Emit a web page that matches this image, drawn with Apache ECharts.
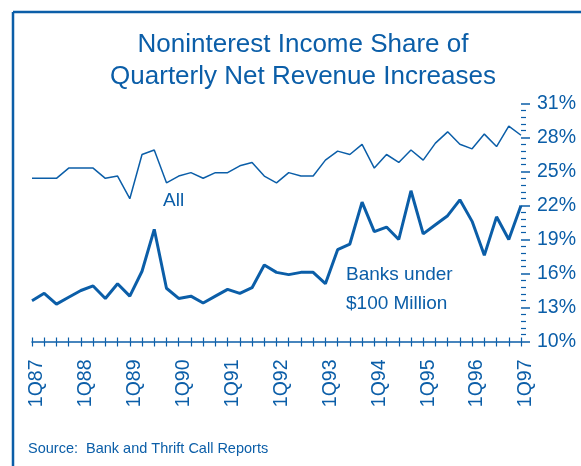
<!DOCTYPE html>
<html>
<head>
<meta charset="utf-8">
<script src="https://cdn.jsdelivr.net/npm/echarts@6/dist/echarts.min.js"></script>
<style>
  html, body { margin: 0; padding: 0; background: #fff; }
  #chart { width: 581px; height: 466px; }
</style>
</head>
<body>
<div id="chart"></div>
<script>
  // quarters 1Q87 .. 1Q97
  const quarters = []
  for (let y = 87; y <= 97; y++) {
    for (let q = 1; q <= 4; q++) {
      if (y === 97 && q > 1) break
      quarters.push(q + 'Q' + y)
    }
  }

  // noninterest income share, all banks (%)
  const allBanks = [24.4, 24.4, 24.4, 25.3, 25.3, 25.3, 24.4, 24.6, 22.6, 26.5,
    26.9, 24.0, 24.6, 24.9, 24.4, 24.9, 24.9, 25.5, 25.8, 24.6,
    24.0, 24.9, 24.6, 24.6, 26.0, 26.8, 26.5, 27.4, 25.3, 26.5,
    25.8, 26.9, 26.0, 27.5, 28.5, 27.4, 27.0, 28.3, 27.2, 29.0, 28.2]

  // banks under $100 million (%)
  const smallBanks = [13.6, 14.25, 13.3, 13.9, 14.5, 14.9, 13.8, 15.1, 14.0, 16.2,
    19.9, 14.7, 13.8, 14.0, 13.4, 14.0, 14.6, 14.25, 14.75, 16.75,
    16.1, 15.9, 16.1, 16.1, 15.1, 18.1, 18.6, 22.3, 19.7, 20.1,
    19.0, 23.3, 19.5, 20.3, 21.1, 22.5, 20.6, 17.6, 21.0, 19.0, 22.0]

  const blue = '#0b5ea8'
  const font = 'Liberation Sans, Arial, sans-serif'

  const chart = echarts.init(document.getElementById('chart'), null, {renderer: 'canvas'})

  const option = {
    animation: false,
    title: {
      text: 'Noninterest Income Share of\nQuarterly Net Revenue Increases',
      left: 298,
      top: 24,
      textAlign: 'center',
      textStyle: {
        color: blue,
        fontFamily: font,
        fontSize: 26,
        fontWeight: 'normal',
        lineHeight: 32
      }
    },
    grid: {
      left: 32,
      right: 60,
      top: 103.5,
      bottom: 124.5
    },
    xAxis: [
      {
        type: 'category',
        data: quarters,
        boundaryGap: false,
        axisLine: { lineStyle: { color: blue, width: 1.5 } },
        axisTick: { interval: 0, length: 5, lineStyle: { color: blue, width: 1.2 } },
        axisLabel: {
          interval: 3,
          rotate: 90,
          margin: 18,
          verticalAlign: 'top',
          lineHeight: 10,
          color: blue,
          fontFamily: font,
          fontSize: 19.5
        },
        splitLine: { show: false }
      },
      {
        // inner half of the crossing ticks
        type: 'category',
        data: quarters,
        boundaryGap: false,
        position: 'bottom',
        axisLine: { show: false },
        axisTick: { interval: 0, inside: true, length: 4, lineStyle: { color: blue, width: 1.2 } },
        axisLabel: { show: false },
        splitLine: { show: false }
      }
    ],
    yAxis: {
      type: 'value',
      position: 'right',
      min: 10,
      max: 31,
      interval: 3,
      axisLine: { show: false },
      axisTick: { show: true, length: 9, lineStyle: { color: blue, width: 1.5 } },
      minorTick: { show: true, splitNumber: 5, length: 5, lineStyle: { color: blue, width: 1.2 } },
      axisLabel: {
        formatter: '{value}%',
        margin: 16,
        color: blue,
        fontFamily: font,
        fontSize: 19.5
      },
      splitLine: { show: false },
      minorSplitLine: { show: false }
    },
    series: [
      {
        name: 'All',
        type: 'line',
        data: allBanks,
        symbol: 'none',
        lineStyle: { color: blue, width: 1.5 }
      },
      {
        name: 'Banks under $100 Million',
        type: 'line',
        data: smallBanks,
        symbol: 'none',
        lineStyle: { color: blue, width: 3 }
      }
    ],
    graphic: [
      // frame (top + left)
      { type: 'line', shape: { x1: 13, y1: 12, x2: 581, y2: 12 }, style: { stroke: blue, lineWidth: 2.5 } },
      { type: 'line', shape: { x1: 13, y1: 12, x2: 13, y2: 466 }, style: { stroke: blue, lineWidth: 2.5 } },
      { type: 'text', left: 163, top: 191, style: { text: 'All', fill: blue, font: '19px ' + font } },
      { type: 'text', left: 346, top: 265, style: { text: 'Banks under', fill: blue, font: '19px ' + font } },
      { type: 'text', left: 346, top: 294, style: { text: '$100 Million', fill: blue, font: '19px ' + font } },
      { type: 'text', left: 28, top: 441, style: { text: 'Source:  Bank and Thrift Call Reports', fill: blue, font: '14.5px ' + font } }
    ]
  }

  chart.setOption(option)
</script>
</body>
</html>
